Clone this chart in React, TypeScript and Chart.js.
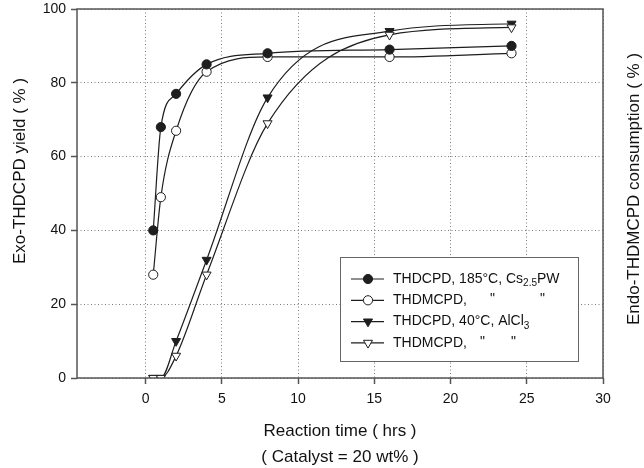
import { useEffect, useRef } from "react";
import { Chart, registerables } from "chart.js";

Chart.register(...registerables);

const FONT = "'Liberation Sans', Arial, Helvetica, sans-serif";

// ---- data ----
const times = [0.5, 1, 2, 4, 8, 16, 24];
const thdcpdCs = [40, 68, 77, 85, 88, 89, 90];
const thdmcpdCs = [28, 49, 67, 83, 87, 87, 88];
const thdcpdAl = [0, 0, 10, 32, 76, 94, 96];
const thdmcpdAl = [0, 0, 6, 28, 69, 93, 95];
const xTicks = [0, 5, 10, 15, 20, 25, 30];
const yTicks = [0, 20, 40, 60, 80, 100];

const xTitle = ["Reaction time ( hrs )", "( Catalyst = 20 wt% )"];
const yTitleLeft = "Exo-THDCPD yield ( % )";
const yTitleRight = "Endo-THDMCPD consumption ( % )";

type Part = { t: string; sub?: boolean };
const legendRows: { parts: Part[]; dittos: number[]; filled: boolean; tri: boolean }[] = [
  { parts: [{ t: "THDCPD, 185°C, Cs" }, { t: "2.5", sub: true }, { t: "PW" }], dittos: [], filled: true, tri: false },
  { parts: [{ t: "THDMCPD," }], dittos: [490, 540], filled: false, tri: false },
  { parts: [{ t: "THDCPD, 40°C, AlCl" }, { t: "3", sub: true }], dittos: [], filled: true, tri: true },
  { parts: [{ t: "THDMCPD," }], dittos: [480, 511], filled: false, tri: true },
];

const INK = "#1e1e1e";
const FRAME = "#555555";

function drawMarker(ctx: CanvasRenderingContext2D, x: number, y: number, filled: boolean, tri: boolean) {
  ctx.beginPath();
  if (tri) {
    const r = 5.2;
    ctx.moveTo(x, y + r);
    ctx.lineTo(x - r * 0.866, y - r / 2);
    ctx.lineTo(x + r * 0.866, y - r / 2);
    ctx.closePath();
  } else {
    ctx.arc(x, y, 4.6, 0, Math.PI * 2);
  }
  ctx.fillStyle = filled ? INK : "#ffffff";
  ctx.fill();
  ctx.lineWidth = 1;
  ctx.strokeStyle = INK;
  ctx.stroke();
}

const overlay = {
  id: "overlay",
  afterDatasetsDraw(chart: any) {
    const { ctx, chartArea: a } = chart;
    ctx.save();
    // frame
    ctx.strokeStyle = FRAME;
    ctx.lineWidth = 1.5;
    ctx.strokeRect(a.left, a.top, a.right - a.left, a.bottom - a.top);

    // legend box
    const bx = 340, by = 257, bw = 238, bh = 104;
    ctx.fillStyle = "#ffffff";
    ctx.fillRect(bx, by, bw, bh);
    ctx.strokeStyle = "#666";
    ctx.lineWidth = 1;
    ctx.strokeRect(bx + 0.5, by + 0.5, bw, bh);

    legendRows.forEach((row, i) => {
      const y = 279 + i * 21.3;
      ctx.beginPath();
      ctx.moveTo(351, y);
      ctx.lineTo(384, y);
      ctx.strokeStyle = INK;
      ctx.lineWidth = 1.2;
      ctx.stroke();
      drawMarker(ctx, 368, y, row.filled, row.tri);
      ctx.fillStyle = "#111";
      ctx.textBaseline = "middle";
      ctx.textAlign = "left";
      let x = 393;
      for (const p of row.parts) {
        if (p.sub) {
          ctx.font = `10px ${FONT}`;
          ctx.fillText(p.t, x, y + 4.5);
        } else {
          ctx.font = `14px ${FONT}`;
          ctx.fillText(p.t, x, y);
        }
        x += ctx.measureText(p.t).width;
      }
      ctx.font = `14px ${FONT}`;
      for (const dx of row.dittos) ctx.fillText('"', dx, y - 1);
    });

    // vertical titles
    ctx.fillStyle = "#111";
    ctx.font = `17px ${FONT}`;
    ctx.textAlign = "center";
    ctx.textBaseline = "middle";
    ctx.save();
    ctx.translate(20, 171);
    ctx.rotate(-Math.PI / 2);
    ctx.fillText(yTitleLeft, 0, 0);
    ctx.restore();
    ctx.save();
    ctx.translate(634, 189);
    ctx.rotate(-Math.PI / 2);
    ctx.fillText(yTitleRight, 0, 0);
    ctx.restore();

    ctx.restore();
  },
};

function series(ys: number[]) {
  return times.map((x, i) => ({ x, y: ys[i] }));
}

export default function App() {
  const ref = useRef<HTMLCanvasElement | null>(null);

  useEffect(() => {
    if (!ref.current) return;
    Chart.defaults.font.family = FONT;
    const common = {
      borderColor: INK,
      borderWidth: 1.2,
      pointBorderColor: INK,
      pointBorderWidth: 1,
      cubicInterpolationMode: "monotone" as const,
      fill: false,
    };
    const chart = new Chart(ref.current, {
      type: "line",
      data: {
        datasets: [
          { ...common, label: "THDCPD Cs", data: series(thdcpdCs), pointStyle: "circle", pointRadius: 4.6, pointBackgroundColor: INK, order: 0 },
          { ...common, label: "THDMCPD Cs", data: series(thdmcpdCs), pointStyle: "circle", pointRadius: 4.6, pointBackgroundColor: "#ffffff", order: 0 },
          { ...common, label: "THDCPD Al", data: series(thdcpdAl), pointStyle: "triangle", pointRotation: 180, pointRadius: 5.2, pointBackgroundColor: INK, order: 1 },
          { ...common, label: "THDMCPD Al", data: series(thdmcpdAl), pointStyle: "triangle", pointRotation: 180, pointRadius: 5.2, pointBackgroundColor: "#ffffff", order: 0 },
        ],
      },
      options: {
        animation: false,
        responsive: true,
        maintainAspectRatio: false,
        layout: { padding: { top: 9, right: 41, left: 0, bottom: 0 } },
        plugins: { legend: { display: false }, tooltip: { enabled: false } },
        scales: {
          x: {
            type: "linear",
            min: -4.5,
            max: 30,
            afterBuildTicks: (s: any) => {
              s.ticks = xTicks.map((v) => ({ value: v }));
            },
            afterFit: (s: any) => {
              s.height = 90;
              s.paddingLeft = 0;
              s.paddingRight = 0;
            },
            ticks: { color: "#111", font: { size: 14 }, padding: 7, maxRotation: 0, autoSkip: false },
            grid: { color: "#7a7a7a", lineWidth: 1, tickLength: 6, tickColor: FRAME, tickWidth: 1.5 },
            border: { display: false, dash: [1, 2.5] },
            title: {
              display: true,
              text: xTitle,
              color: "#111",
              font: { size: 17, lineHeight: 1.53 },
              padding: { top: 0, bottom: -2 },
            },
          },
          y: {
            type: "linear",
            min: 0,
            max: 100,
            afterBuildTicks: (s: any) => {
              s.ticks = yTicks.map((v) => ({ value: v }));
            },
            afterFit: (s: any) => {
              s.width = 77;
              s.paddingTop = 0;
              s.paddingBottom = 0;
            },
            ticks: { color: "#111", font: { size: 14 }, padding: 5 },
            grid: { color: "#7a7a7a", lineWidth: 1, tickLength: 6, tickColor: FRAME, tickWidth: 1.5 },
            border: { display: false, dash: [1, 2.5] },
          },
        },
      },
      plugins: [overlay],
    });
    return () => chart.destroy();
  }, []);

  return (
    <div style={{ position: "fixed", left: 0, top: 0, width: 644, height: 468, background: "#fff" }}>
      <canvas ref={ref} />
    </div>
  );
}
